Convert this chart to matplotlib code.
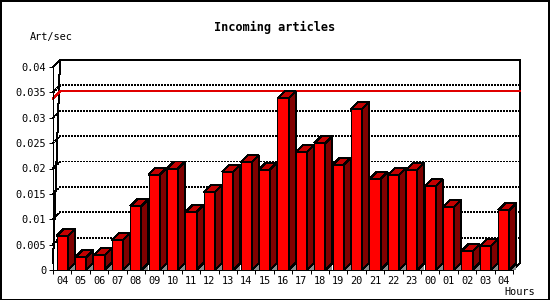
import matplotlib
matplotlib.use("Agg")
import matplotlib.pyplot as plt
from matplotlib.patches import Polygon, Rectangle
from matplotlib.lines import Line2D

# ---- data ----
hours = ["04", "05", "06", "07", "08", "09", "10", "11", "12", "13", "14", "15",
         "16", "17", "18", "19", "20", "21", "22", "23", "00", "01", "02", "03", "04"]
art_per_sec = [0.0067, 0.0025, 0.0029, 0.0059, 0.0126, 0.0188, 0.0200, 0.0114,
               0.0153, 0.0194, 0.0212, 0.0198, 0.0338, 0.0232, 0.0250, 0.0207,
               0.0317, 0.0179, 0.0187, 0.0198, 0.0165, 0.0124, 0.0037, 0.0047,
               0.0118]
yticks = [0, 0.005, 0.01, 0.015, 0.02, 0.025, 0.03, 0.035, 0.04]
ytick_labels = ["0", "0.005", "0.01", "0.015", "0.02", "0.025", "0.03", "0.035", "0.04"]
title = "Incoming articles"
ylabel = "Art/sec"
xlabel = "Hours"

# ---- style ----
W, H, DPI = 550, 300, 100
FRONT = "#ff0000"
TOP = "#c40000"
SIDE = "#800000"
FLOOR = "#8c8c8c"
MAXLINE = "#e00000"
PX = 72.0 / DPI          # one pixel in points
DEPTH = 7                # 3D depth in pixels
BARW = 0.6
mono = "DejaVu Sans Mono"

fig = plt.figure(figsize=(W / DPI, H / DPI), dpi=DPI)
fig.patch.set_facecolor("white")

left_px, right_px, bottom_px, top_px = 53, 513, 270, 67
ax = fig.add_axes([left_px / W, (H - bottom_px) / H,
                   (right_px - left_px) / W, (bottom_px - top_px) / H])
n = len(hours)
xmin, xmax = -0.5, n - 0.5
ymin, ymax = 0, 0.04
ax.set_xlim(xmin, xmax)
ax.set_ylim(ymin, ymax)
ax.patch.set_visible(False)

# depth in data units
dx = DEPTH * (xmax - xmin) / (right_px - left_px)
dy = DEPTH * (ymax - ymin) / (bottom_px - top_px)

for s in ["top", "right"]:
    ax.spines[s].set_visible(False)
for s in ["left", "bottom"]:
    ax.spines[s].set_linewidth(PX)
    ax.spines[s].set_antialiased(False)

ax.set_yticks(yticks)
ax.set_yticklabels(ytick_labels, fontfamily=mono, fontsize=7.4)
ax.tick_params(axis="y", direction="out", length=4 * PX, width=PX, pad=2)

ax.set_xticks(range(n))
ax.set_xticklabels(hours, fontfamily=mono, fontsize=7.4)
ax.set_xticks([i - 0.5 for i in range(n + 1)], minor=True)
ax.tick_params(axis="x", which="major", length=0, pad=4)
ax.tick_params(axis="x", which="minor", direction="out", length=4 * PX, width=PX)

lw = PX
# back box
ax.add_line(Line2D([xmin, xmin + dx, xmax + dx, xmax + dx],
                   [ymin + dy, ymax + dy, ymax + dy, ymin + dy],
                   color="black", lw=lw, clip_on=False, antialiased=False, zorder=1))
ax.add_line(Line2D([xmin, xmin + dx], [ymax, ymax + dy], color="black", lw=lw,
                   clip_on=False, antialiased=False, zorder=1))
ax.add_line(Line2D([xmax, xmax + dx], [ymin, ymin + dy], color="black", lw=lw,
                   clip_on=False, antialiased=False, zorder=1))

# dotted gridlines on back wall
for v in yticks[1:-1]:
    ax.add_line(Line2D([xmin, xmin + dx, xmax + dx], [v, v + dy, v + dy],
                       color="black", lw=lw, linestyle=(0, (2, 2)),
                       clip_on=False, antialiased=False, zorder=1))

# max line
vmax = max(art_per_sec)
ax.add_line(Line2D([xmin, xmin + dx, xmax + dx], [vmax, vmax + dy, vmax + dy],
                   color=MAXLINE, lw=lw, clip_on=False, antialiased=False, zorder=1.5))

# bars
ax.bar(range(n), art_per_sec, width=BARW, color=FRONT, edgecolor="black",
       linewidth=lw, zorder=3, antialiased=False)
for i, v in enumerate(art_per_sec):
    x0, x1 = i - BARW / 2, i + BARW / 2
    floor = Polygon([(x1, 0), (x1 + dx, 0), (x1 + dx, dy)], closed=True,
                    facecolor=FLOOR, edgecolor="none", zorder=2, clip_on=False,
                    antialiased=False)
    top = Polygon([(x0, v), (x1, v), (x1 + dx, v + dy), (x0 + dx, v + dy)],
                  closed=True, facecolor=TOP, edgecolor="black", linewidth=lw,
                  zorder=3, clip_on=False, antialiased=False)
    side = Polygon([(x1, 0), (x1, v), (x1 + dx, v + dy), (x1 + dx, dy)],
                   closed=True, facecolor=SIDE, edgecolor="black", linewidth=lw,
                   zorder=3, clip_on=False, antialiased=False)
    ax.add_patch(floor)
    ax.add_patch(top)
    ax.add_patch(side)

# texts
fig.text(0.5, 1 - 27 / H, title, ha="center", va="center",
         fontfamily=mono, fontweight="bold", fontsize=8.6)
fig.text(30 / W, 1 - 37 / H, ylabel, ha="left", va="center",
         fontfamily=mono, fontsize=7.4)
fig.text(504 / W, 1 - 292 / H, xlabel, ha="left", va="center",
         fontfamily=mono, fontsize=7.4)

# outer frame
fig.patches.append(Rectangle((0.5 / W, 0.5 / H), (W - 1.5) / W, (H - 1.5) / H,
                             transform=fig.transFigure, fill=False,
                             edgecolor="black", linewidth=1.5 * PX,
                             antialiased=False))

fig.savefig("out.png", dpi=DPI, facecolor="white")
